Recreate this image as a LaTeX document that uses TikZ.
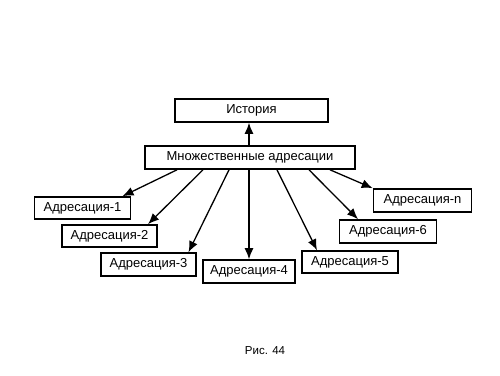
\documentclass[tikz,border=0pt]{standalone}
\usepackage{fontspec}
\setmainfont{Liberation Sans}
\usetikzlibrary{arrows.meta}

\begin{document}
\begin{tikzpicture}[x=1pt, y=-1pt, every node/.style={font=\fontsize{13}{15}\selectfont},
	box/.style={draw, line width=1.6pt, inner sep=0pt, minimum height=22pt},
	link/.style={line width=1.3pt, -{Latex[length=11pt,width=9pt]}}]
	\useasboundingbox (0,0) rectangle (500,375);
	\node[box, minimum width=153pt, minimum height=23pt] (hist) at (251.5,110.5) {История};
	\node[box, minimum width=210pt, minimum height=23pt] (multi) at (250,157.5) {Множественные адресации};
	\node[box, minimum width=96pt] (a1) at (82.5,208) {Адресация-1};
	\node[box, minimum width=95pt] (a2) at (109.5,236) {Адресация-2};
	\node[box, minimum width=95pt, minimum height=23pt] (a3) at (148.5,264.5) {Адресация-3};
	\node[box, minimum width=92pt, minimum height=23pt] (a4) at (249,271.5) {Адресация-4};
	\node[box, minimum width=96pt] (a5) at (350,262) {Адресация-5};
	\node[box, minimum width=97pt, minimum height=23pt] (a6) at (388,231.5) {Адресация-6};
	\node[box, minimum width=98pt, minimum height=23pt] (an) at (422.5,200.5) {Адресация-n};
	\draw[link] ([xshift=-1pt]multi.north) -- ([xshift=-2.5pt]hist.south);
	\draw[link] ([xshift=-73pt]multi.south) -- ([xshift=40pt]a1.north);
	\draw[link] ([xshift=-47pt]multi.south) -- ([xshift=38.5pt]a2.north);
	\draw[link] ([xshift=-21pt]multi.south) -- ([xshift=40pt]a3.north);
	\draw[link] ([xshift=-1pt]multi.south) -- (a4.north);
	\draw[link] ([xshift=27pt]multi.south) -- ([xshift=-33pt]a5.north);
	\draw[link] ([xshift=59pt]multi.south) -- ([xshift=-30pt]a6.north);
	\draw[link] ([xshift=80pt]multi.south) -- (an.north west);
	\node[font=\fontsize{11.5}{13}\selectfont] (fig) at (265,351) {Рис. 44};
\end{tikzpicture}
\end{document}
